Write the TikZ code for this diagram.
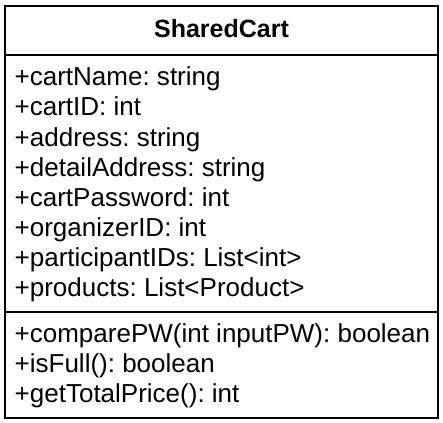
\documentclass[tikz,border=0pt]{standalone}
\usepackage{fontspec}
\setmainfont{Liberation Sans}
\usetikzlibrary{positioning}
\frenchspacing

\begin{document}
\begin{tikzpicture}[
  x=1pt,y=-1pt,
  part/.style={draw,line width=2pt,minimum width=433pt,inner sep=0pt,outer sep=0pt},
  member/.style={anchor=base west,inner sep=0pt,font=\fontsize{26}{30}\selectfont}
]
  \useasboundingbox (0,0) rectangle (443,422);
  \node[part,minimum height=49pt] (head) at (221.5,30.5) {};
  \node[part,minimum height=257pt,below=0pt of head] (attrs) {};
  \node[part,minimum height=106pt,below=0pt of attrs] (ops) {};
  \node[anchor=base,inner sep=0pt,font=\fontsize{25}{30}\selectfont\bfseries] (title) at (221.5,38) {SharedCart};

  \node[member] (a1) at (14.5,86) {+cartName: string};
  \node[member] (a2) at (14.5,116) {+cartID: int};
  \node[member] (a3) at (14.5,146) {+address: string};
  \node[member] (a4) at (14.5,176) {+detailAddress: string};
  \node[member] (a5) at (14.5,206) {+cartPassword: int};
  \node[member] (a6) at (14.5,236) {+organizerID: int};
  \node[member] (a7) at (14.5,266) {+participantIDs: List<int>};
  \node[member] (a8) at (14.5,296) {+products: List<Product>};

  \node[member] (m1) at (14.5,342) {+comparePW(int inputPW): boolean};
  \node[member] (m2) at (14.5,372) {+isFull(): boolean};
  \node[member] (m3) at (14.5,402) {+getTotalPrice(): int};
\end{tikzpicture}
\end{document}
